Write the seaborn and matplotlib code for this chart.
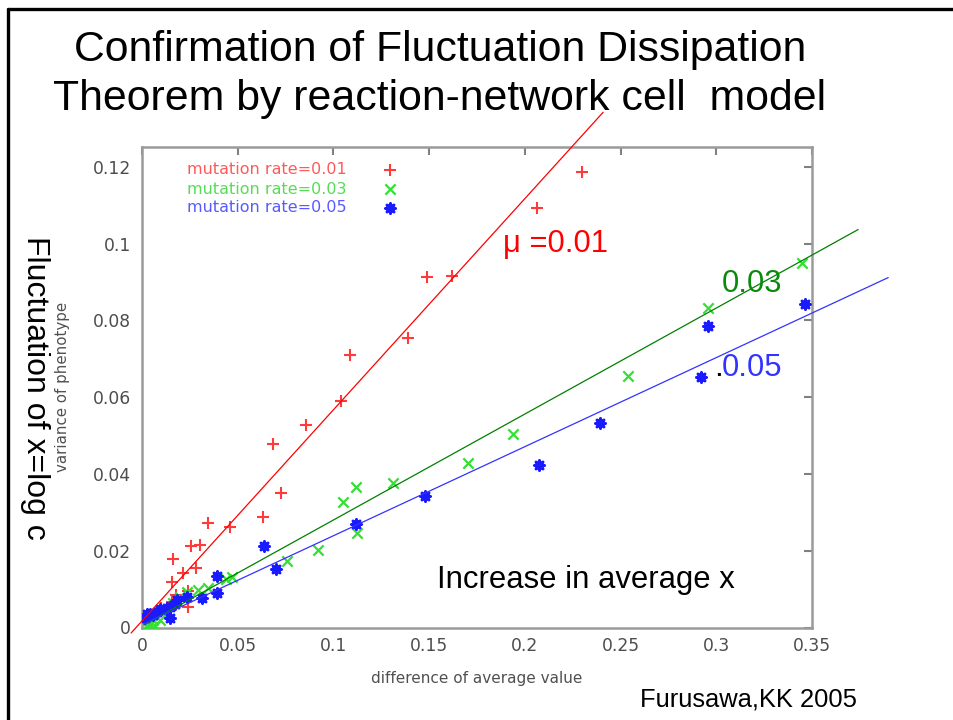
import numpy as np
import pandas as pd
import matplotlib
matplotlib.use("Agg")
import matplotlib.pyplot as plt
from matplotlib.lines import Line2D
import seaborn as sns

# ---------------- data ----------------
red_x = [0.2299, 0.2062, 0.1489, 0.1621, 0.1389, 0.1084, 0.1041, 0.0856, 0.0683,
         0.0724, 0.0630, 0.0459, 0.0347, 0.0303, 0.0256, 0.0160, 0.0280, 0.0216,
         0.0155, 0.0242, 0.0175, 0.0242, 0.0155, 0.0100, 0.0060, 0.0030]
red_y = [0.1186, 0.1092, 0.0914, 0.0916, 0.0754, 0.0710, 0.0589, 0.0528, 0.0479,
         0.0350, 0.0289, 0.0263, 0.0273, 0.0215, 0.0212, 0.0178, 0.0154, 0.0141,
         0.0119, 0.0096, 0.0085, 0.0053, 0.0067, 0.0050, 0.0030, 0.0015]

green_x = [0.3449, 0.2958, 0.2538, 0.1938, 0.1702, 0.1309, 0.1120, 0.1049, 0.1125,
           0.0917, 0.0758, 0.0470, 0.0440, 0.0347, 0.0290, 0.0233, 0.0200, 0.0164,
           0.0111, 0.0094, 0.0068, 0.0059, 0.0050, 0.0042, 0.0025, 0.0030]
green_y = [0.0949, 0.0833, 0.0656, 0.0504, 0.0429, 0.0377, 0.0366, 0.0327, 0.0246,
           0.0201, 0.0172, 0.0131, 0.0126, 0.0102, 0.0098, 0.0093, 0.0080, 0.0063,
           0.0041, 0.0020, 0.0004, 0.0020, 0.0033, 0.0010, 0.0002, 0.0008]

blue_x = [0.3465, 0.2956, 0.2918, 0.2391, 0.2072, 0.1479, 0.1120, 0.0639, 0.0699,
          0.0393, 0.0393, 0.0316, 0.0233, 0.0185, 0.0170, 0.0146, 0.0146, 0.0129,
          0.0094, 0.0077, 0.0059, 0.0040, 0.0025, 0.0016, 0.0008]
blue_y = [0.0843, 0.0786, 0.0652, 0.0533, 0.0423, 0.0342, 0.0270, 0.0212, 0.0153,
          0.0133, 0.0091, 0.0077, 0.0079, 0.0072, 0.0062, 0.0054, 0.0026, 0.0050,
          0.0048, 0.0041, 0.0033, 0.0036, 0.0035, 0.0024, 0.0028]

series_labels = ["mutation rate=0.01", "mutation rate=0.03", "mutation rate=0.05"]

# fitted lines (slope, intercept, x-start, x-end)
fit_slopes = [0.550, 0.276, 0.232]
fit_intercepts = [0.0017, 0.0004, 0.0007]
fit_x_start = [-0.0057, 0.001, 0.001]
fit_x_end = [0.2409, 0.3741, 0.3898]

x_ticks = [0, 0.05, 0.1, 0.15, 0.2, 0.25, 0.3, 0.35]
x_tick_labels = ["0", "0.05", "0.1", "0.15", "0.2", "0.25", "0.3", "0.35"]
y_ticks = [0, 0.02, 0.04, 0.06, 0.08, 0.1, 0.12]
y_tick_labels = ["0", "0.02", "0.04", "0.06", "0.08", "0.1", "0.12"]

# ---------------- figure ----------------
sns.set_style("white")
plt.rcParams["font.family"] = ["DejaVu Sans"]

W, H = 954, 720
fig = plt.figure(figsize=(W / 100, H / 100), dpi=100)
fig.patch.set_facecolor("white")


def fx(px):
    return px / W


def fy(py):
    return 1 - py / H


ax = fig.add_axes([fx(142), fy(627.5), (812 - 142) / W, (627.5 - 146.8) / H])

point_colors = ["#ff3a3a", "#33e033", "#1a1aff"]
line_colors = ["#ff0000", "#008000", "#3333ff"]
legend_colors = ["#ff5a5a", "#55dd55", "#5a5aff"]
markers = ["+", "x", (8, 2, 0)]
sizes = [75, 55, 50]
lws = [1.5, 1.6, 2.0]

frames = []
for lab, xs, ys in zip(series_labels, [red_x, green_x, blue_x], [red_y, green_y, blue_y]):
    frames.append(pd.DataFrame({"x": xs, "y": ys, "rate": lab}))
df = pd.concat(frames, ignore_index=True)

for i, lab in enumerate(series_labels):
    sub = df[df["rate"] == lab]
    sns.scatterplot(data=sub, x="x", y="y", ax=ax, marker=markers[i],
                    color=point_colors[i], s=sizes[i], linewidth=lws[i],
                    legend=False, zorder=3)

# fitted lines (extend beyond the plot frame like the slide annotation)
for i in range(3):
    xs = np.array([fit_x_start[i], fit_x_end[i]])
    ys = fit_intercepts[i] + fit_slopes[i] * xs
    ax.plot(xs, ys, color=line_colors[i], lw=0.9, clip_on=False, zorder=4)

ax.set_xlim(0, 0.35)
ax.set_ylim(0, 0.1252)
ax.set_xticks(x_ticks)
ax.set_xticklabels(x_tick_labels)
ax.set_yticks(y_ticks)
ax.set_yticklabels(y_tick_labels)
ax.tick_params(direction="in", length=6, width=1.5, color="#808080",
               top=True, right=True, labelsize=12.3, labelcolor="#4d4d4d")
ax.tick_params(axis="x", pad=7)
ax.tick_params(axis="y", pad=8)
for sp in ax.spines.values():
    sp.set_visible(True)
    sp.set_color("#9a9a9a")
    sp.set_linewidth(1.8)

ax.set_xlabel("difference of average value", fontsize=11, color="#505050")
ax.xaxis.set_label_coords(0.5, -0.09)
ax.set_ylabel("variance of phenotype", fontsize=10.8, color="#505050")
ax.yaxis.set_label_coords(-0.108, 0.5)

# legend (gnuplot style: text then marker)
leg_text_x = (187 - 142) / 670
leg_marker_x = (390 - 142) / 670
leg_rows = [170, 189, 208]
for i, lab in enumerate(series_labels):
    ya = (627.5 - leg_rows[i]) / 480.7
    ax.text(leg_text_x, ya, lab, transform=ax.transAxes, color=legend_colors[i],
            fontsize=11.5, va="center", ha="left")
    ax.scatter([leg_marker_x], [ya], transform=ax.transAxes, marker=markers[i],
               color=point_colors[i], s=sizes[i], linewidths=lws[i], clip_on=False)

# ---------------- slide annotations ----------------
slide_font = ["Liberation Sans", "DejaVu Sans"]
fig.text(fx(440), fy(61), "Confirmation of Fluctuation Dissipation", fontsize=30.8,
         family=slide_font, ha="center", va="baseline", color="black")
fig.text(fx(440), fy(110), "Theorem by reaction-network cell  model", fontsize=30.8,
         family=slide_font, ha="center", va="baseline", color="black")
fig.text(fx(35), fy(388), "Fluctuation of x=log c", fontsize=23, family=slide_font,
         rotation=-90, ha="center", va="center", color="black")
fig.text(fx(503), fy(252), "\u03bc =0.01", fontsize=22.3, family=slide_font,
         ha="left", va="baseline", color="#ff0000")
fig.text(fx(722), fy(292), "0.03", fontsize=22.3, family=slide_font,
         ha="left", va="baseline", color="#0a8a0a")
fig.text(fx(714), fy(376), ".", fontsize=22.3, family=slide_font,
         ha="left", va="baseline", color="black")
fig.text(fx(722), fy(376), "0.05", fontsize=22.3, family=slide_font,
         ha="left", va="baseline", color="#3333ff")
fig.text(fx(437), fy(588), "Increase in average x", fontsize=22.3, family=slide_font,
         ha="left", va="baseline", color="black")
fig.text(fx(640), fy(706), "Furusawa,KK 2005", fontsize=18.4, family=slide_font,
         ha="left", va="baseline", color="black")

# slide border (top and left)
fig.add_artist(Line2D([fx(8), 1.0], [fy(9), fy(9)], color="black", lw=2.4,
                      transform=fig.transFigure))
fig.add_artist(Line2D([fx(8), fx(8)], [fy(9), 0.0], color="black", lw=2.4,
                      transform=fig.transFigure))

fig.savefig("out.png", dpi=100, facecolor="white")
